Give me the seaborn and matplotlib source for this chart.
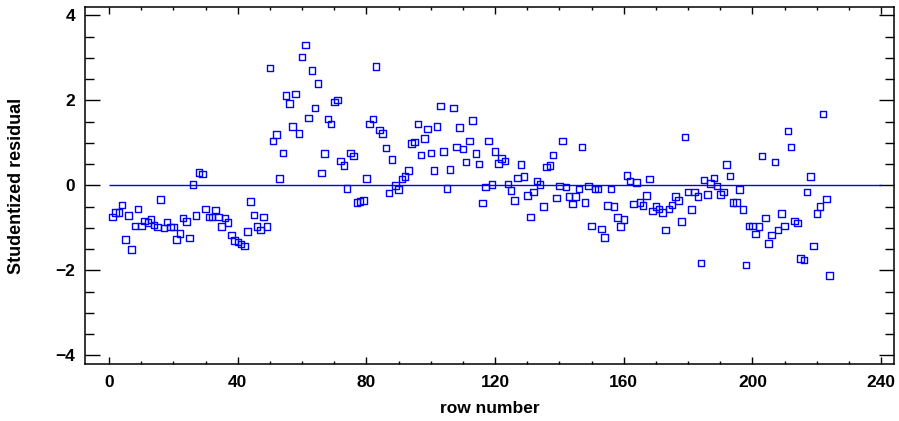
import numpy as np
import pandas as pd
import matplotlib
matplotlib.use('Agg')
import matplotlib.pyplot as plt
from matplotlib.ticker import MultipleLocator
import seaborn as sns

# ── Studentized residuals, one per row (rows 1..224) ──────────────────────────
residuals = [
    -0.74, -0.63, -0.63, -0.46, -1.27, -0.71, -1.50, -0.95, -0.55, -0.95,
    -0.83, -0.87, -0.80, -0.93, -0.98, -0.33, -1.00, -0.86, -0.98, -0.98,
    -1.27, -1.13, -0.77, -0.85, -1.24, 0.02, -0.71, 0.30, 0.27, -0.55,
    -0.74, -0.74, -0.58, -0.74, -0.97, -0.77, -0.87, -1.16, -1.30, -1.33,
    -1.38, -1.42, -1.08, -0.38, -0.69, -0.97, -1.05, -0.74, -0.97, 2.77,
    1.05, 1.20, 0.16, 0.77, 2.12, 1.93, 1.39, 2.15, 1.22, 3.02,
    3.31, 1.59, 2.71, 1.82, 2.40, 0.29, 0.75, 1.56, 1.45, 1.96,
    2.01, 0.58, 0.47, -0.07, 0.77, 0.69, -0.40, -0.38, -0.35, 0.16,
    1.45, 1.56, 2.80, 1.31, 1.22, 0.88, -0.18, 0.61, 0.00, -0.10,
    0.15, 0.21, 0.35, 0.99, 1.02, 1.45, 0.72, 1.11, 1.33, 0.77,
    0.35, 1.39, 1.87, 0.80, -0.07, 0.38, 1.82, 0.91, 1.36, 0.86,
    0.55, 1.05, 1.53, 0.75, 0.51, -0.41, -0.04, 1.05, 0.02, 0.80,
    0.52, 0.63, 0.58, 0.04, -0.12, -0.35, 0.18, 0.49, 0.21, -0.24,
    -0.74, -0.15, 0.11, 0.02, -0.49, 0.44, 0.47, 0.72, -0.29, -0.01,
    1.05, -0.04, -0.26, -0.44, -0.26, -0.08, 0.91, -0.40, -0.01, -0.95,
    -0.08, -0.08, -1.02, -1.22, -0.47, -0.08, -0.50, -0.75, -0.97, -0.80,
    0.24, 0.11, -0.44, 0.07, -0.40, -0.47, -0.24, 0.15, -0.60, -0.49,
    -0.55, -0.63, -1.05, -0.55, -0.46, -0.26, -0.35, -0.85, 1.14, -0.15,
    -0.57, -0.15, -0.26, -1.82, 0.13, -0.21, 0.05, 0.18, -0.01, -0.21,
    -0.15, 0.49, 0.22, -0.40, -0.40, -0.09, -0.57, -1.87, -0.95, -0.95,
    -1.14, -0.97, 0.69, -0.77, -1.37, -1.16, 0.55, -1.05, -0.66, -0.95,
    1.28, 0.91, -0.83, -0.88, -1.72, -1.75, -0.15, 0.21, -1.42, -0.66,
    -0.50, 1.68, -0.32, -2.12,
]
rows = list(range(1, len(residuals) + 1))

x_ticks = [0, 40, 80, 120, 160, 200, 240]
y_ticks = [-4, -2, 0, 2, 4]

df = pd.DataFrame({'row number': rows, 'Studentized residual': residuals})

sns.set_style('ticks')
plt.rcParams['font.family'] = ['Liberation Sans', 'DejaVu Sans']
plt.rcParams['font.weight'] = 'bold'
plt.rcParams['text.color'] = 'black'
plt.rcParams['axes.labelcolor'] = 'black'
plt.rcParams['xtick.color'] = 'black'
plt.rcParams['ytick.color'] = 'black'

fig = plt.figure(figsize=(8.99, 4.21), dpi=100)
ax = fig.add_axes([0.0946, 0.1354, 0.8998, 0.848])

ax.hlines(0, x_ticks[0], x_ticks[-1], color='#0000ff', linewidth=1.0, zorder=1)
sns.scatterplot(data=df, x='row number', y='Studentized residual', ax=ax,
                marker='s', s=22, facecolor='none', edgecolor='#0000ff',
                linewidth=1.0, zorder=2)

ax.set_xlim(-7.5, 244)
ax.set_ylim(-4.2, 4.2)
ax.set_xticks(x_ticks)
ax.set_yticks(y_ticks)
ax.xaxis.set_minor_locator(MultipleLocator(10))
ax.yaxis.set_minor_locator(MultipleLocator(0.5))

ax.tick_params(which='both', direction='in', top=True, right=True,
               color='black', labelcolor='black', labelsize=12.5, width=1.0)
ax.tick_params(axis='y', which='major', length=11, pad=7)
ax.tick_params(axis='y', which='minor', length=6.5)
ax.tick_params(axis='x', which='major', length=5, pad=8)
ax.tick_params(axis='x', which='minor', length=2.5)
for lab in ax.get_xticklabels() + ax.get_yticklabels():
    lab.set_fontweight('bold')

for sp in ax.spines.values():
    sp.set_visible(True)
    sp.set_color('black')
    sp.set_linewidth(1.1)

ax.set_xlabel('row number', fontsize=12.5, fontweight='bold', color='black')
ax.set_ylabel('Studentized residual', fontsize=13, fontweight='bold', color='black')
ax.xaxis.set_label_coords(0.5, -0.103)
ax.yaxis.set_label_coords(-0.074, 0.5)

fig.savefig('out.png', dpi=100)
plt.close(fig)
